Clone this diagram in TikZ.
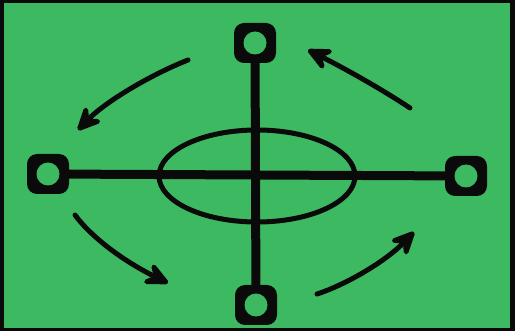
\documentclass[tikz,border=0pt]{standalone}
\usepackage{xcolor}
\usepackage{tikz}
\usetikzlibrary{arrows.meta, positioning, calc, shapes.geometric}
\definecolor{field}{HTML}{3DBA61}
\definecolor{ink}{HTML}{0A0A0A}

\begin{document}
\begin{tikzpicture}[
  x=1pt, y=-1pt,
  terminal/.style={rectangle, fill=ink, rounded corners=10pt, minimum width=42pt, minimum height=40pt, inner sep=0pt,
    path picture={\fill[field] (path picture bounding box.center) circle (11.5pt);}},
  rod/.style={draw=ink, line width=9pt},
  spin/.style={draw=ink, line width=5pt, line cap=round, ->},
  >={Stealth[length=32pt, width=30pt, inset=13pt, round]}
]
\fill[ink] (0,0) rectangle (515,331);
\fill[field] (4,3) rectangle (510,328);

\node[ellipse, draw=ink, line width=5pt, minimum width=196pt, minimum height=92pt, inner sep=0pt] (ring) at (257,176) {};

\node[terminal] (west)  at (48,174)  {};
\node[terminal] (east)  at (466,176) {};
\node[terminal] (north) at (255,43)  {};
\node[terminal] (south) at (256,305) {};

\draw[rod] (west) -- (east);
\draw[rod] (north) -- (south);

\coordinate (nw-from) at (188,60);
\coordinate (nw-to)   at (78,130);
\coordinate (ne-from) at (410,108);
\coordinate (ne-to)   at (308,50);
\coordinate (sw-from) at (75,215);
\coordinate (sw-to)   at (168,283);
\coordinate (se-from) at (317,294);
\coordinate (se-to)   at (414,232);

\draw[spin] (nw-from) .. controls (150,75) and (105,102) .. (nw-to);
\draw[spin] (ne-from) .. controls (380,88) and (340,66) .. (ne-to);
\draw[spin] (sw-from) .. controls (92,238) and (125,262) .. (sw-to);
\draw[spin] (se-from) .. controls (345,285) and (385,262) .. (se-to);
\end{tikzpicture}
\end{document}
